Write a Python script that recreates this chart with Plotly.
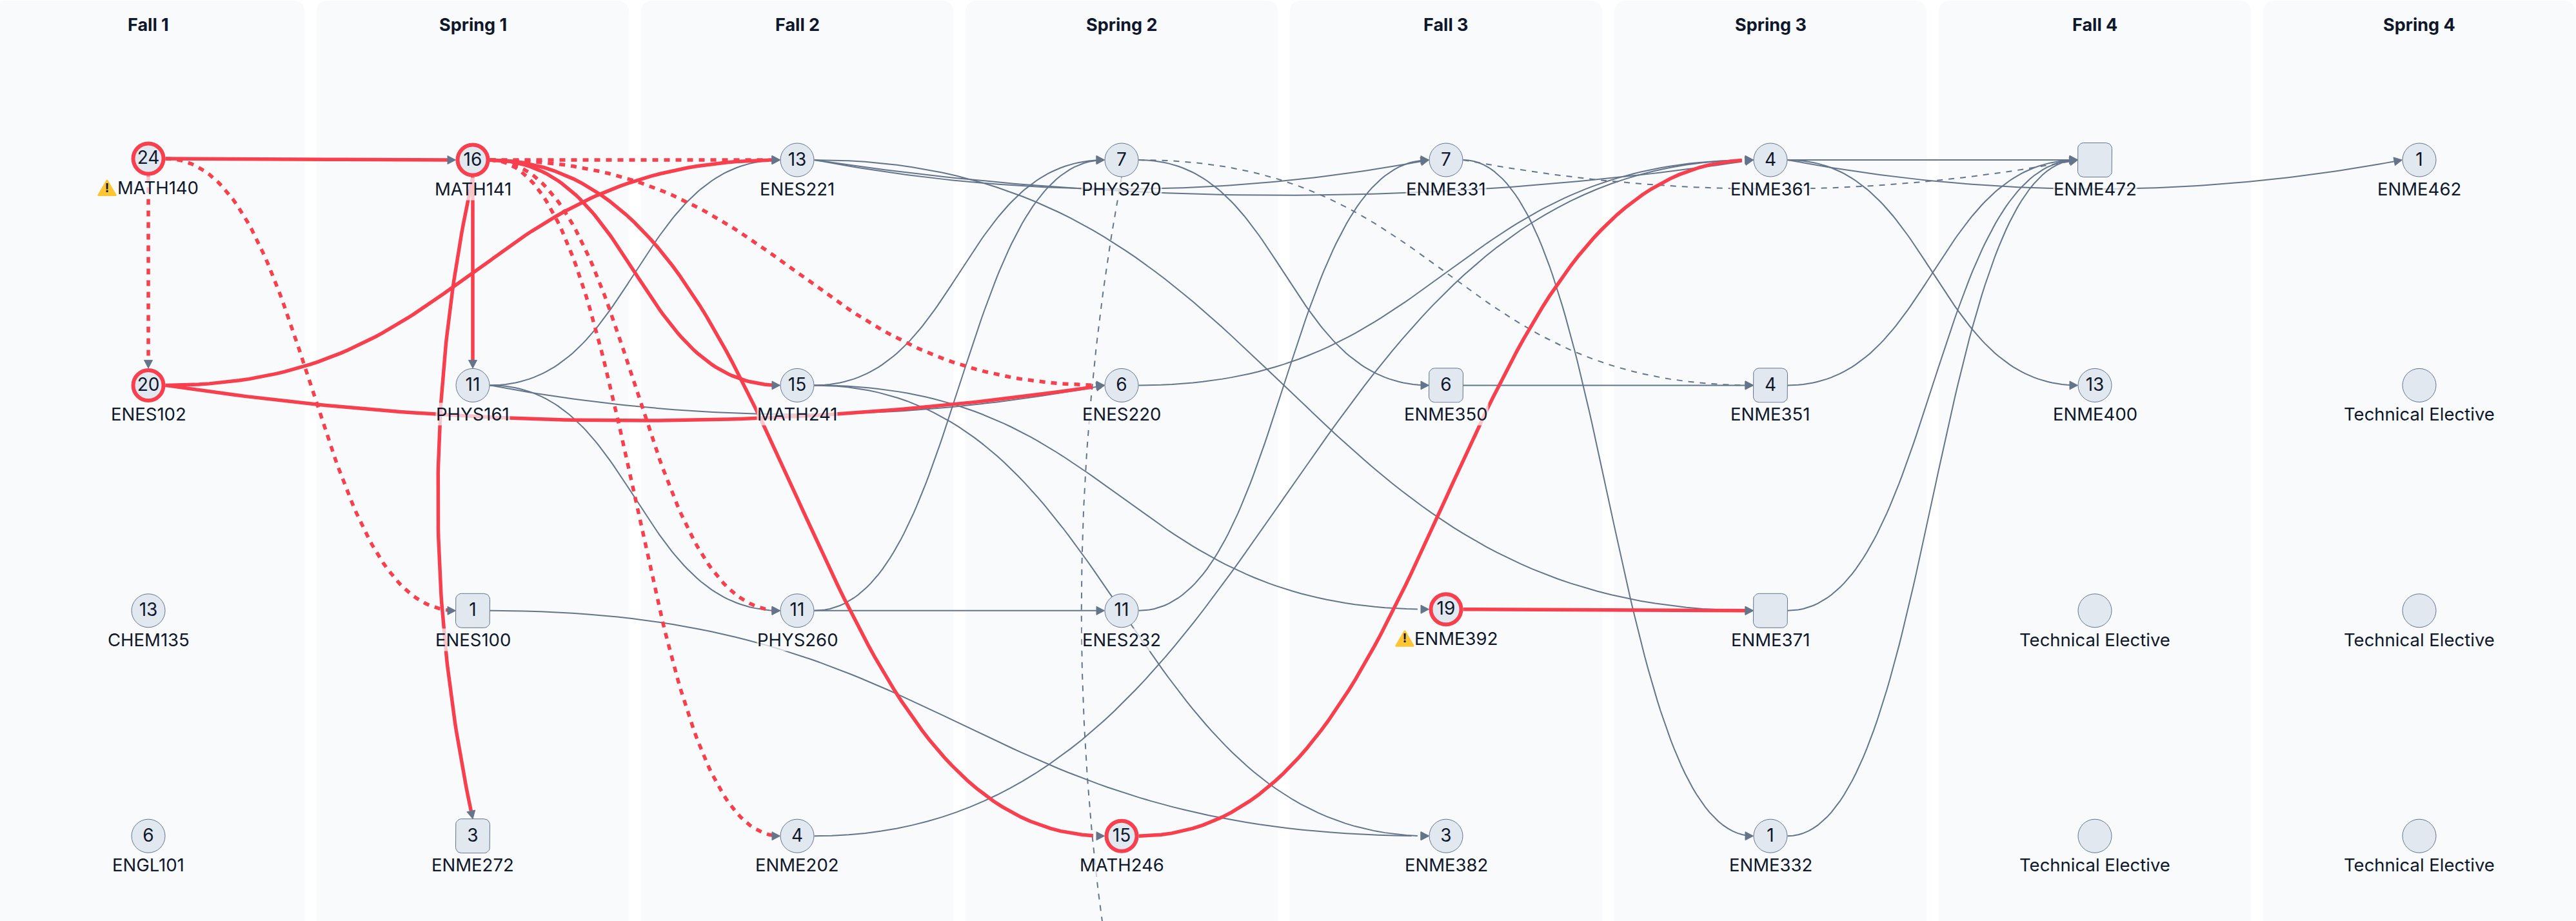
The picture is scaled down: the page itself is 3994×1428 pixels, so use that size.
import math

import plotly.graph_objects as go

TERMS = ["Fall 1", "Spring 1", "Fall 2", "Spring 2", "Fall 3", "Spring 3", "Fall 4", "Spring 4"]

NODE_NAMES = [
    "MATH140", "ENES102", "CHEM135", "ENGL101",
    "MATH141", "PHYS161", "ENES100", "ENME272",
    "ENES221", "MATH241", "PHYS260", "ENME202",
    "PHYS270", "ENES220", "ENES232", "MATH246",
    "ENME331", "ENME350", "ENME392", "ENME382",
    "ENME361", "ENME351", "ENME371", "ENME332",
    "ENME472", "ENME400", "Technical Elective", "Technical Elective",
    "ENME462", "Technical Elective", "Technical Elective", "Technical Elective",
]
NODE_COLS = [0, 0, 0, 0, 1, 1, 1, 1, 2, 2, 2, 2, 3, 3, 3, 3, 4, 4, 4, 4, 5, 5, 5, 5, 6, 6, 6, 6, 7, 7, 7, 7]
NODE_ROWS = [-0.006, 1, 2, 3, 0, 1, 2, 3, 0, 1, 2, 3, 0, 1, 2, 3, 0, 1, 1.994, 3, 0, 1, 2, 3, 0, 1, 2, 3, 0, 1, 2, 3]
NODE_COUNTS = [
    "24", "20", "13", "6",
    "16", "11", "1", "3",
    "13", "15", "11", "4",
    "7", "6", "11", "15",
    "7", "6", "19", "3",
    "4", "4", "", "1",
    "", "13", "", "",
    "1", "", "", "",
]
SQUARE_NODES = ["ENES100", "ENME272", "ENME350", "ENME351", "ENME371", "ENME472"]
CRITICAL_NODES = ["MATH140", "ENES102", "MATH141", "MATH246", "ENME392"]
WARNING_NODES = ["MATH140", "ENME392"]

# this one sits under the bottom of the page, only its edge is visible
OFFPAGE_NODE = ("OFFPAGE", 3, 4)

EDGES_GREY = [
    ("PHYS161", "ENES221"), ("PHYS161", "ENES220"), ("PHYS161", "PHYS260"),
    ("ENES100", "ENME382"), ("ENES221", "ENME331"), ("ENES221", "ENME361"),
    ("ENES221", "ENME371"), ("MATH241", "PHYS270"), ("MATH241", "ENME382"),
    ("MATH241", "ENME392"), ("PHYS260", "PHYS270"), ("PHYS260", "ENES232"),
    ("ENME202", "ENME361"), ("PHYS270", "ENME350"), ("ENES220", "ENME361"),
    ("ENES232", "ENME331"), ("ENME331", "ENME332"), ("ENME350", "ENME351"),
    ("ENME361", "ENME472"), ("ENME361", "ENME462"), ("ENME361", "ENME400"),
    ("ENME351", "ENME472"), ("ENME371", "ENME472"), ("ENME332", "ENME472"),
]
EDGES_GREY_DASHED = [("PHYS270", "ENME351"), ("ENME331", "ENME472"), ("PHYS270", "OFFPAGE")]
EDGES_RED = [
    ("MATH140", "MATH141"), ("ENES102", "ENES221"), ("ENES102", "ENES220"),
    ("MATH141", "PHYS161"), ("MATH141", "ENME272"), ("MATH141", "MATH241"),
    ("MATH141", "MATH246"), ("ENME392", "ENME371"), ("MATH246", "ENME361"),
]
EDGES_RED_DASHED = [
    ("MATH140", "ENES102"), ("MATH140", "ENES100"), ("MATH141", "ENES221"),
    ("MATH141", "ENES220"), ("MATH141", "PHYS260"), ("MATH141", "ENME202"),
]

WIDTH = 3994
HEIGHT = 1428
COL_0 = 230
COL_STEP = 503
ROW_0 = 248
ROW_STEP = 349.4
NODE_R = 26.5
RED = "#f83f4e"
GREY = "#64748b"
INK = "#0f172a"
PANEL = "#f8fafc"
NODE_FILL = "#e2e8f0"

# how far the curve is pushed out when an edge skips over nodes in its row/column
ROW_BULGE = {2: 60, 3: 73}
COL_BULGE = {3: 72, 4: 83}


def to_x(px):
    return (px - COL_0) / COL_STEP


def to_y(px):
    return (px - ROW_0) / ROW_STEP


def center(col, row):
    return COL_0 + col * COL_STEP, ROW_0 + row * ROW_STEP


positions = {n: (c, r) for n, c, r in zip(NODE_NAMES, NODE_COLS, NODE_ROWS)}
positions[OFFPAGE_NODE[0]] = OFFPAGE_NODE[1:]


def edge_controls(source, target):
    sc, sr = positions[source]
    tc, tr = positions[target]
    sx, sy = center(sc, sr)
    tx, ty = center(tc, tr)
    if sc == tc:
        p0, p3 = (sx, sy + NODE_R), (tx, ty - NODE_R)
        span = round(tr) - round(sr)
        bulge = COL_BULGE.get(span, 0)
        dy = p3[1] - p0[1]
        return p0, (sx - bulge, p0[1] + dy / 3), (tx - bulge, p3[1] - dy / 3), p3
    p0, p3 = (sx + NODE_R, sy), (tx - NODE_R, ty)
    dx = p3[0] - p0[0]
    if round(sr) == round(tr):
        bulge = ROW_BULGE.get(tc - sc, 0)
        return p0, (p0[0] + dx / 3, sy + bulge), (p3[0] - dx / 3, ty + bulge), p3
    return p0, (p0[0] + dx / 2, sy), (p0[0] + dx / 2, ty), p3


def bezier_points(p0, p1, p2, p3, steps=80):
    pts = []
    for i in range(steps + 1):
        t = i / steps
        a, b, c, d = (1 - t) ** 3, 3 * t * (1 - t) ** 2, 3 * t * t * (1 - t), t ** 3
        pts.append((a * p0[0] + b * p1[0] + c * p2[0] + d * p3[0], a * p0[1] + b * p1[1] + c * p2[1] + d * p3[1]))
    return pts


def edge_trace(edges, color, width, dash):
    xs, ys = [], []
    for source, target in edges:
        p0, p1, p2, p3 = edge_controls(source, target)
        # stop short of the tip, the arrow head covers the rest
        pts = [p for p in bezier_points(p0, p1, p2, p3) if math.dist(p, p3) > 7]
        xs += [to_x(p[0]) for p in pts] + [None]
        ys += [to_y(p[1]) for p in pts] + [None]
    return go.Scatter(x=xs, y=ys, mode="lines", line=dict(color=color, width=width, dash=dash), hoverinfo="skip")


def arrow_trace(edges):
    xs, ys = [], []
    for source, target in edges:
        p0, p1, p2, p3 = edge_controls(source, target)
        length = math.dist(p2, p3) or 1
        ux, uy = (p3[0] - p2[0]) / length, (p3[1] - p2[1]) / length
        bx, by = p3[0] - 12.5 * ux, p3[1] - 12.5 * uy
        corners = [p3, (bx - 6.5 * uy, by + 6.5 * ux), (bx + 6.5 * uy, by - 6.5 * ux), p3]
        xs += [to_x(p[0]) for p in corners] + [None]
        ys += [to_y(p[1]) for p in corners] + [None]
    return go.Scatter(
        x=xs, y=ys, mode="lines", fill="toself", fillcolor=GREY, line=dict(color=GREY, width=1), hoverinfo="skip"
    )


def rounded_square(cx, cy, half, radius):
    pts = []
    for ax, ay, start in [
        (cx + half - radius, cy - half + radius, -90),
        (cx + half - radius, cy + half - radius, 0),
        (cx - half + radius, cy + half - radius, 90),
        (cx - half + radius, cy - half + radius, 180),
    ]:
        for i in range(7):
            a = math.radians(start + i * 15)
            pts.append((ax + radius * math.cos(a), ay + radius * math.sin(a)))
    return pts + [pts[0]]


def panel_path(col):
    left = to_x(COL_0 + col * COL_STEP - 242.5)
    right = to_x(COL_0 + col * COL_STEP + 242.5)
    top = to_y(1)
    bottom = to_y(HEIGHT + 40)
    rx = 20 / COL_STEP
    ry = 20 / ROW_STEP
    return (
        f"M {left} {bottom} L {left} {top + ry} Q {left} {top} {left + rx} {top} "
        f"L {right - rx} {top} Q {right} {top} {right} {top + ry} L {right} {bottom} Z"
    )


fig = go.Figure()

fig.add_trace(edge_trace(EDGES_GREY, GREY, 2, "solid"))
fig.add_trace(edge_trace(EDGES_GREY_DASHED, GREY, 2, "9px,9px"))
fig.add_trace(edge_trace(EDGES_RED, RED, 5.5, "solid"))
fig.add_trace(edge_trace(EDGES_RED_DASHED, RED, 5.5, "9px,9px"))
fig.add_trace(arrow_trace(EDGES_GREY + EDGES_GREY_DASHED + EDGES_RED + EDGES_RED_DASHED))

# square nodes have rounded corners, so they are closed outlines rather than markers
for name, col, row in zip(NODE_NAMES, NODE_COLS, NODE_ROWS):
    if name in SQUARE_NODES:
        cx, cy = center(col, row)
        pts = rounded_square(cx, cy, NODE_R, 9)
        fig.add_trace(
            go.Scatter(
                x=[to_x(p[0]) for p in pts],
                y=[to_y(p[1]) for p in pts],
                mode="lines",
                fill="toself",
                fillcolor=NODE_FILL,
                line=dict(color=GREY, width=1),
                hoverinfo="skip",
            )
        )

plain = [i for i, n in enumerate(NODE_NAMES) if n not in SQUARE_NODES and n not in CRITICAL_NODES]
critical = [i for i, n in enumerate(NODE_NAMES) if n in CRITICAL_NODES]

fig.add_trace(
    go.Scatter(
        x=[NODE_COLS[i] for i in plain],
        y=[NODE_ROWS[i] for i in plain],
        mode="markers",
        marker=dict(size=52, color=NODE_FILL, line=dict(color=GREY, width=1)),
        hoverinfo="skip",
    )
)
fig.add_trace(
    go.Scatter(
        x=[NODE_COLS[i] for i in critical],
        y=[NODE_ROWS[i] for i in critical],
        mode="markers",
        marker=dict(size=47, color=NODE_FILL, line=dict(color=RED, width=6)),
        hoverinfo="skip",
    )
)
fig.add_trace(
    go.Scatter(
        x=NODE_COLS,
        y=[r + 1.5 / ROW_STEP for r in NODE_ROWS],
        mode="text",
        text=NODE_COUNTS,
        textposition="middle center",
        textfont=dict(family="Inter", size=28, color=INK),
        hoverinfo="skip",
    )
)

# warning triangles next to the label
for name in WARNING_NODES:
    col, row = positions[name]
    cx, cy = center(col, row)
    tri = [(cx - 64, cy + 33), (cx - 50, cy + 57), (cx - 78, cy + 57), (cx - 64, cy + 33)]
    fig.add_trace(
        go.Scatter(
            x=[to_x(p[0]) for p in tri],
            y=[to_y(p[1]) for p in tri],
            mode="lines",
            fill="toself",
            fillcolor="#fdc532",
            line=dict(color="#fdc532", width=2),
            hoverinfo="skip",
        )
    )
    fig.add_trace(
        go.Scatter(
            x=[to_x(cx - 64)],
            y=[to_y(cy + 47)],
            mode="text",
            text=["!"],
            textposition="middle center",
            textfont=dict(family="Inter", size=19, color=INK, weight=700),
            hoverinfo="skip",
        )
    )

for col, term in enumerate(TERMS):
    fig.add_shape(
        type="path",
        path=panel_path(col),
        xref="x",
        yref="y",
        layer="below",
        fillcolor=PANEL,
        line=dict(width=0),
    )
    fig.add_annotation(
        x=col,
        y=to_y(38),
        text=term,
        showarrow=False,
        font=dict(family="Inter", size=27, color=INK, weight=700),
    )

for name, col, row in zip(NODE_NAMES, NODE_COLS, NODE_ROWS):
    fig.add_annotation(
        x=col,
        y=row + 45 / ROW_STEP,
        text=name,
        xshift=15 if name in WARNING_NODES else 0,
        showarrow=False,
        bgcolor="rgba(248,250,252,0.72)",
        borderpad=0,
        font=dict(family="Inter", size=27.5, color=INK),
    )

fig.update_layout(
    width=WIDTH,
    height=HEIGHT,
    margin=dict(l=0, r=0, t=0, b=0),
    paper_bgcolor="white",
    plot_bgcolor="white",
    showlegend=False,
    xaxis=dict(range=[to_x(0), to_x(WIDTH)], visible=False, fixedrange=True),
    yaxis=dict(range=[to_y(HEIGHT), to_y(0)], visible=False, fixedrange=True),
)

fig.write_html(
    "out.html",
    config={"displayModeBar": False},
    post_script="document.body.style.margin = '0';",
)
